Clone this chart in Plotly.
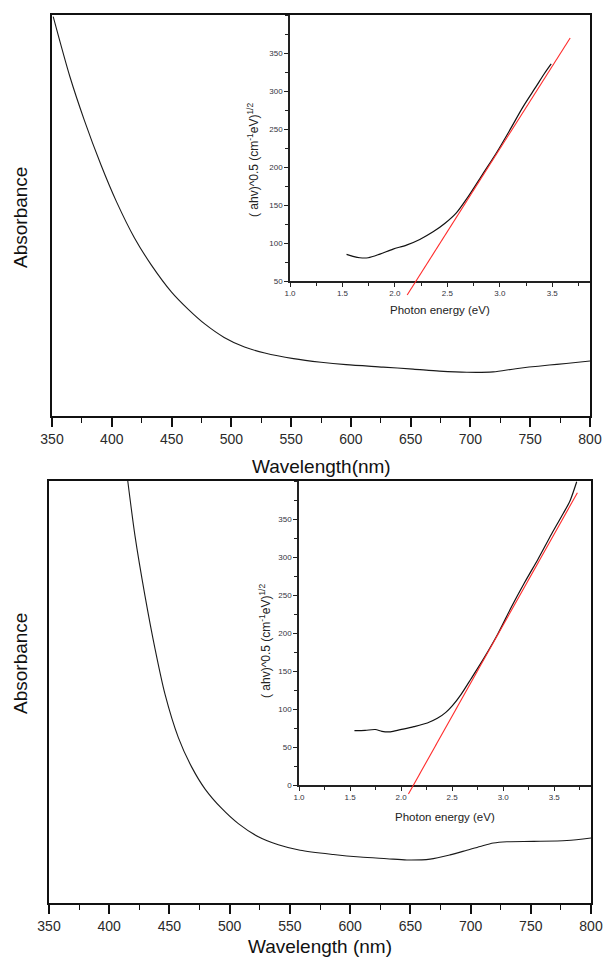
import plotly.graph_objects as go

W, H = 604, 966

# ---------------- data ----------------
# Top panel: absorbance spectrum (arbitrary units)
top_wl = [351, 365, 377, 391, 404, 419, 433, 450, 464, 478,
          494, 511, 528, 552, 575, 596, 627, 652, 674, 697,
          719, 738, 766, 780, 800]
top_abs = [0.996, 0.846, 0.738, 0.626, 0.534, 0.444, 0.377, 0.309, 0.266, 0.229,
           0.196, 0.172, 0.157, 0.143, 0.134, 0.128, 0.122, 0.117, 0.112, 0.109,
           0.110, 0.118, 0.127, 0.131, 0.137]

# Top inset: Tauc plot
top_ev = [1.539, 1.60, 1.666, 1.746, 1.857, 1.983, 2.11, 2.237, 2.364, 2.475,
          2.586, 2.697, 2.84, 2.967, 3.094, 3.22, 3.347, 3.427, 3.49]
top_tauc = [85.0, 82.5, 80.6, 80.6, 85.4, 92.0, 97.2, 104.7, 114.7, 125.7,
            139.7, 160.7, 191.3, 218.4, 248.2, 278.8, 306.0, 323.4, 335.7]
top_fit_ev = [2.117, 3.671]
top_fit_y = [31.6, 369.8]

# Bottom panel: absorbance spectrum (arbitrary units)
bot_wl = [415.4, 421.4, 429.7, 438.0, 446.3, 457.4, 468.5, 479.6, 493.4, 507.2,
          523.8, 540.4, 558.5, 586.1, 608.3, 630.5, 647.1, 666.4, 683.0, 696.9,
          708.0, 719.0, 730.2, 752.3, 780.0, 800.0]
bot_abs = [1.0, 0.870, 0.728, 0.603, 0.495, 0.392, 0.322, 0.270, 0.224, 0.188,
           0.157, 0.138, 0.125, 0.115, 0.109, 0.105, 0.102, 0.104, 0.114, 0.125,
           0.134, 0.142, 0.145, 0.146, 0.148, 0.154]

# Bottom inset: Tauc plot
bot_ev = [1.543, 1.648, 1.747, 1.813, 1.895, 1.993, 2.125, 2.257, 2.355, 2.438,
          2.503, 2.586, 2.684, 2.816, 2.947, 3.079, 3.211, 3.342, 3.474, 3.589,
          3.655, 3.72]
bot_tauc = [71.5, 71.9, 73.0, 70.5, 69.9, 72.8, 76.8, 81.6, 87.7, 95.6,
            104.4, 118.9, 139.5, 168.0, 198.7, 233.8, 266.7, 297.4, 330.3, 357.5,
            374.1, 399.0]
bot_fit_ev = [2.072, 3.727]
bot_fit_y = [-11.8, 384.6]

wl_ticks = [350, 400, 450, 500, 550, 600, 650, 700, 750, 800]
ev_ticks = [1.0, 1.5, 2.0, 2.5, 3.0, 3.5]
ev_ticklabels = ["1.0", "1.5", "2.0", "2.5", "3.0", "3.5"]
top_tauc_ticks = [50, 100, 150, 200, 250, 300, 350]
bot_tauc_ticks = [0, 50, 100, 150, 200, 250, 300, 350]

# ---------------- layout geometry (pixels) ----------------
def xd(l, r):
    return [l / W, r / W]

def yd(t, b):
    return [1 - b / H, 1 - t / H]

FONT = "Arial, Liberation Sans, sans-serif"
TICKC = "#2a2a2a"
INSETC = "#333340"

fig = go.Figure()

LS = dict(shape="spline", smoothing=0.8)
fig.add_trace(go.Scatter(x=top_wl, y=top_abs, mode="lines", line=dict(color="#1a1a1a", width=1.1, **LS),
                         xaxis="x", yaxis="y", showlegend=False))
fig.add_trace(go.Scatter(x=bot_wl, y=bot_abs, mode="lines", line=dict(color="#1a1a1a", width=1.1, **LS),
                         xaxis="x3", yaxis="y3", showlegend=False))
fig.add_trace(go.Scatter(x=top_ev, y=top_tauc, mode="lines", line=dict(color="#111", width=1.2, **LS),
                         xaxis="x2", yaxis="y2", showlegend=False))
fig.add_trace(go.Scatter(x=bot_ev, y=bot_tauc, mode="lines", line=dict(color="#111", width=1.2, **LS),
                         xaxis="x4", yaxis="y4", showlegend=False))
# red fits on extended invisible axes (so they can overhang the inset x axis)
fig.add_trace(go.Scatter(x=top_fit_ev, y=top_fit_y, mode="lines", line=dict(color="#ff2a2a", width=1.1),
                         xaxis="x5", yaxis="y5", showlegend=False))
fig.add_trace(go.Scatter(x=bot_fit_ev, y=bot_fit_y, mode="lines", line=dict(color="#ff2a2a", width=1.1),
                         xaxis="x6", yaxis="y6", showlegend=False))

main_x = dict(range=[350, 800], tickvals=wl_ticks, ticks="outside", ticklen=9, tickwidth=1.6,
              tickcolor="#111", showline=True, linecolor="#111", linewidth=2, mirror=True,
              showgrid=False, zeroline=False, automargin=False,
              tickfont=dict(family=FONT, size=14, color=TICKC),
              minor=dict(dtick=25, tick0=350, ticks="outside", ticklen=5, tickwidth=1.4, tickcolor="#111", showgrid=False))
main_y = dict(range=[0, 1], showticklabels=False, ticks="", showline=True, linecolor="#111",
              linewidth=2, mirror=True, showgrid=False, zeroline=False, automargin=False)

def inset_x(anchor):
    return dict(range=[1.0, 3.86], tickvals=ev_ticks, ticktext=ev_ticklabels, ticks="outside", ticklen=4,
                tickwidth=1.2, tickcolor="#222", showline=True, linecolor="#222", linewidth=1.5,
                showgrid=False, zeroline=False, anchor=anchor, automargin=False,
                tickfont=dict(family=FONT, size=8, color=INSETC),
                minor=dict(dtick=0.25, tick0=1.0, ticks="outside", ticklen=3, tickwidth=1.1, tickcolor="#222", showgrid=False))

def inset_y(rng, ticks, anchor):
    return dict(range=rng, tickvals=ticks, ticks="outside", ticklen=4, tickwidth=1.2, tickcolor="#222",
                showline=True, linecolor="#222", linewidth=1.5, showgrid=False, zeroline=False, anchor=anchor,
                automargin=False, tickfont=dict(family=FONT, size=8, color=INSETC),
                minor=dict(dtick=25, tick0=0, ticks="outside", ticklen=3, tickwidth=1.1, tickcolor="#222", showgrid=False))

# pixel frames
TOP = dict(l=52, r=590, t=15, b=416)
TIN = dict(l=290, r=590, t=15, b=281)
BOT = dict(l=49, r=591, t=481, b=903)
BIN = dict(l=299, r=591, t=481, b=785)

def ext_range(rng, frame, extra_px):
    upp = (rng[1] - rng[0]) / (frame["b"] - frame["t"])
    return [rng[0] - extra_px * upp, rng[1]]

top_in_rng = [50, 400]
bot_in_rng = [0, 400]
EXT = 22

layout = dict(
    width=W, height=H, margin=dict(l=0, r=0, t=0, b=0, autoexpand=False),
    paper_bgcolor="white", plot_bgcolor="rgba(0,0,0,0)", showlegend=False,
    xaxis=dict(main_x, domain=xd(TOP["l"], TOP["r"]), anchor="y"),
    yaxis=dict(main_y, domain=yd(TOP["t"], TOP["b"]), anchor="x"),
    xaxis3=dict(main_x, domain=xd(BOT["l"], BOT["r"]), anchor="y3"),
    yaxis3=dict(main_y, domain=yd(BOT["t"], BOT["b"]), anchor="x3"),
    xaxis2=dict(inset_x("y2"), domain=xd(TIN["l"], TIN["r"])),
    yaxis2=dict(inset_y(top_in_rng, top_tauc_ticks, "x2"), domain=yd(TIN["t"], TIN["b"])),
    xaxis4=dict(inset_x("y4"), domain=xd(BIN["l"], BIN["r"])),
    yaxis4=dict(inset_y(bot_in_rng, bot_tauc_ticks, "x4"), domain=yd(BIN["t"], BIN["b"])),
    xaxis5=dict(range=[1.0, 3.86], domain=xd(TIN["l"], TIN["r"]), visible=False, anchor="y5", automargin=False),
    yaxis5=dict(range=ext_range(top_in_rng, TIN, EXT), domain=yd(TIN["t"], TIN["b"] + EXT), visible=False, anchor="x5", automargin=False),
    xaxis6=dict(range=[1.0, 3.86], domain=xd(BIN["l"], BIN["r"]), visible=False, anchor="y6", automargin=False),
    yaxis6=dict(range=ext_range(bot_in_rng, BIN, EXT), domain=yd(BIN["t"], BIN["b"] + EXT), visible=False, anchor="x6", automargin=False),
)
fig.update_layout(**layout)

def ann(text, xpx, ypx, size, angle=0, color="#111"):
    fig.add_annotation(text=text, x=xpx / W, y=1 - ypx / H, xref="paper", yref="paper",
                       showarrow=False, textangle=angle, xanchor="center", yanchor="middle",
                       font=dict(family=FONT, size=size, color=color))

ann("Absorbance", 20, 218, 19, -90)
ann("Wavelength(nm)", 321, 466, 19)
ann("Absorbance", 20, 664, 19, -90)
ann("Wavelength (nm)", 320, 946, 19)
ann("Photon energy (eV)", 440, 310, 11.5, color="#222")
ann("Photon energy (eV)", 445, 817, 11.5, color="#222")
ann("( ahv)^0.5 (cm<sup>-1</sup>eV)<sup>1/2</sup>", 253, 160, 12, -90, color="#222")
ann("( ahv)^0.5 (cm<sup>-1</sup>eV)<sup>1/2</sup>", 265, 641, 12, -90, color="#222")

fig.write_html("out.html", config={"displayModeBar": False},
               post_script="document.body.style.margin='0px';")
